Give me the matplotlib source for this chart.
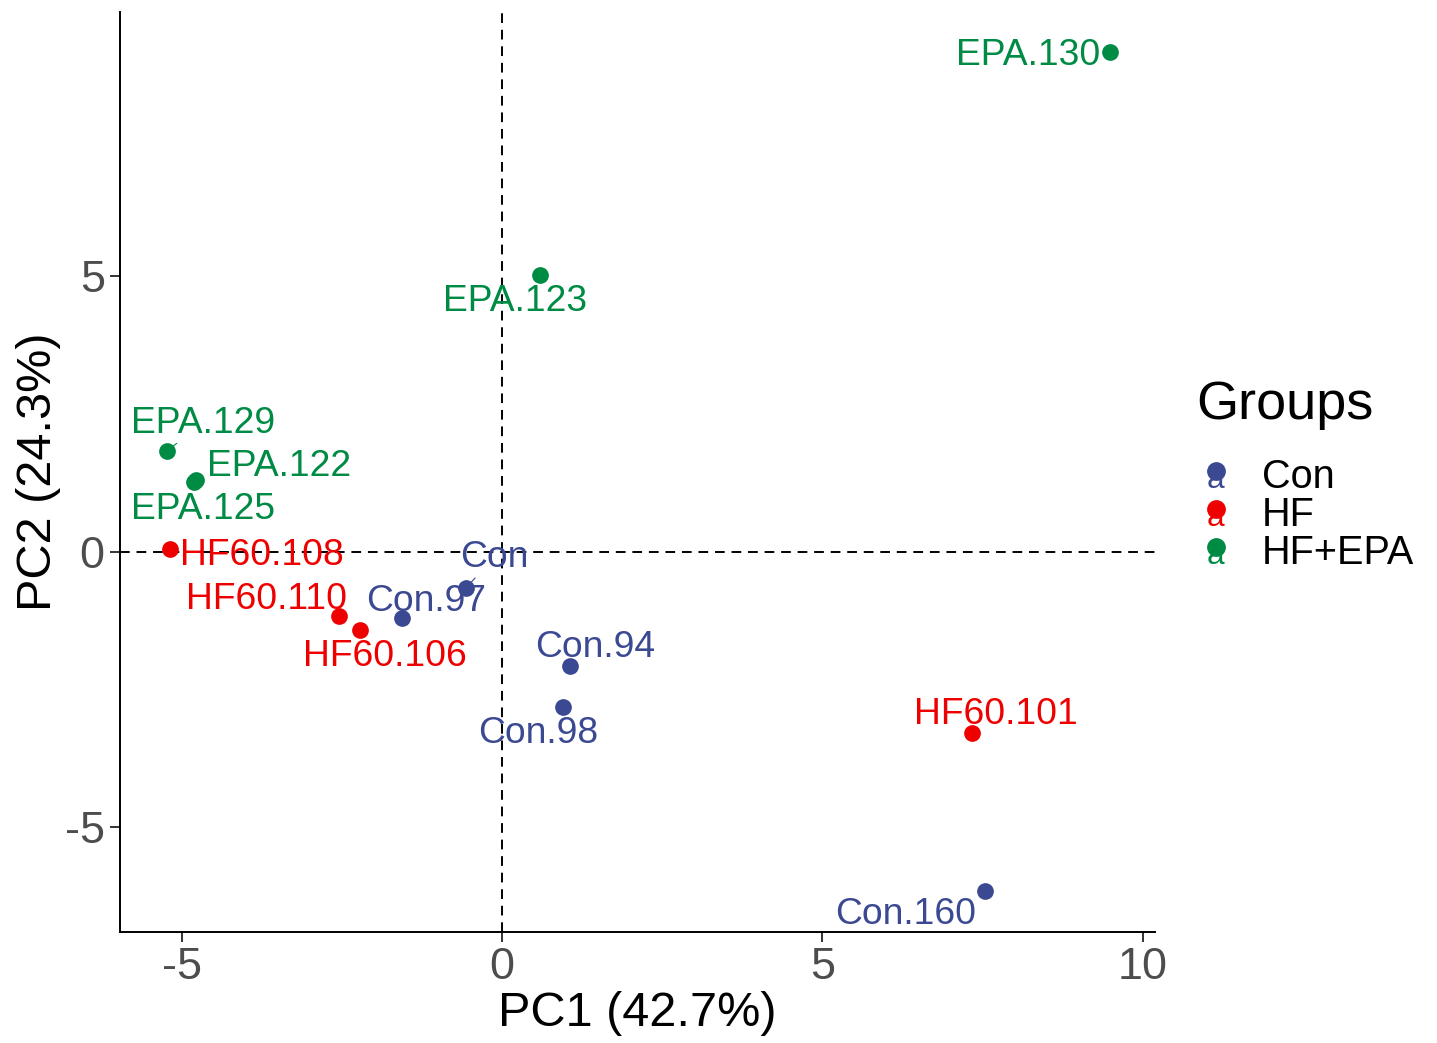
import matplotlib
matplotlib.use("Agg")
import matplotlib.pyplot as plt
from matplotlib.legend_handler import HandlerBase
from matplotlib.lines import Line2D
from matplotlib.text import Text

plt.rcParams["font.family"] = ["Liberation Sans", "DejaVu Sans"]

# PCA scores
samples = ["EPA.130", "EPA.123", "EPA.129", "EPA.122", "EPA.125",
           "HF60.108", "HF60.110", "HF60.106", "HF60.101",
           "Con.97", "Con", "Con.94", "Con.98", "Con.160"]
groups = ["HF+EPA", "HF+EPA", "HF+EPA", "HF+EPA", "HF+EPA",
          "HF", "HF", "HF", "HF",
          "Con", "Con", "Con", "Con", "Con"]
pc1 = [9.49, 0.59, -5.23, -4.77, -4.80,
       -5.18, -2.54, -2.22, 7.33,
       -1.56, -0.56, 1.06, 0.95, 7.54]
pc2 = [9.07, 5.03, 1.83, 1.31, 1.27,
       0.05, -1.16, -1.42, -3.28,
       -1.20, -0.65, -2.07, -2.81, -6.15]

group_names = ["Con", "HF", "HF+EPA"]
group_colors = {"Con": "#3B4992", "HF": "#EE0000", "HF+EPA": "#008B45"}

# label placement (offset in pixels from the point, like ggrepel did it)
label_offsets = {
    "EPA.130": (-82, 0), "EPA.123": (-25, -24), "EPA.129": (36, 31),
    "EPA.122": (83, 16), "EPA.125": (9, -25), "HF60.108": (92, -3),
    "HF60.110": (-73, 19), "HF60.106": (25, -23), "HF60.101": (24, 21),
    "Con.97": (24, 20), "Con": (28, 33), "Con.94": (25, 21),
    "Con.98": (-25, -24), "Con.160": (-80, -21),
}
with_segment = {"EPA.129", "Con"}


class PointLetterHandler(HandlerBase):
    def create_artists(self, legend, orig_handle, xdescent, ydescent,
                       width, height, fontsize, trans):
        c = orig_handle.get_color()
        x = width / 2 - xdescent
        y = height / 2 - ydescent
        dot = Line2D([x], [y + 2], marker="o", markersize=12.5, color=c,
                     linestyle="none", transform=trans)
        letter = Text(x, y - 4, "a", color=c, fontsize=fontsize * 0.8,
                      ha="center", va="center", transform=trans)
        return [letter, dot]


fig = plt.figure(figsize=(14.37, 10.43), dpi=100)
ax = fig.add_axes([0.0835, 0.1064, 0.7203, 0.8821])

ax.axhline(0, color="black", lw=1.4, dashes=(5, 3.5), zorder=1)
ax.axvline(0, color="black", lw=1.4, dashes=(5, 3.5), zorder=1)

for g in group_names:
    xs = [x for x, gg in zip(pc1, groups) if gg == g]
    ys = [y for y, gg in zip(pc2, groups) if gg == g]
    ax.scatter(xs, ys, s=145, color=group_colors[g], zorder=3, linewidths=0)

for name, g, x, y in zip(samples, groups, pc1, pc2):
    dx, dy = label_offsets[name]
    dy -= 3
    arrow = None
    if name in with_segment:
        arrow = dict(arrowstyle="-", color=group_colors[g], lw=0.8,
                     shrinkA=0, shrinkB=5)
    ax.annotate(name, (x, y), xytext=(dx * 0.72, dy * 0.72),
                textcoords="offset points", ha="center", va="center",
                fontsize=26.8, color=group_colors[g], zorder=4,
                arrowprops=arrow)

ax.set_xlim(-5.96, 10.19)
ax.set_ylim(-6.9, 9.8)
ax.set_xticks([-5, 0, 5, 10])
ax.set_yticks([-5, 0, 5])
ax.set_xticklabels(["-5", "0", "5", "10"])
ax.set_yticklabels(["-5", "0", "5"])
for s in ["top", "right"]:
    ax.spines[s].set_visible(False)
for s in ["left", "bottom"]:
    ax.spines[s].set_linewidth(1.4)
ax.tick_params(labelsize=32.4, labelcolor="#4D4D4D", length=7, width=1.4,
               color="#333333", pad=4)
ax.set_xlabel("PC1 (42.7%)", fontsize=35, labelpad=2)
ax.set_ylabel("PC2 (24.3%)", fontsize=35, labelpad=3)

handles = [Line2D([], [], color=group_colors[g]) for g in group_names]
leg = fig.legend(handles, group_names, loc="upper left",
                 bbox_to_anchor=(0.813, 0.662), frameon=False,
                 fontsize=28.5, title="Groups", title_fontsize=39,
                 handler_map={Line2D: PointLetterHandler()},
                 handlelength=1.0, handletextpad=0.67, labelspacing=0.0,
                 borderpad=0.2)
leg._legend_box.align = "left"
leg._legend_box.sep = 20

fig.savefig("out.png", dpi=100)
